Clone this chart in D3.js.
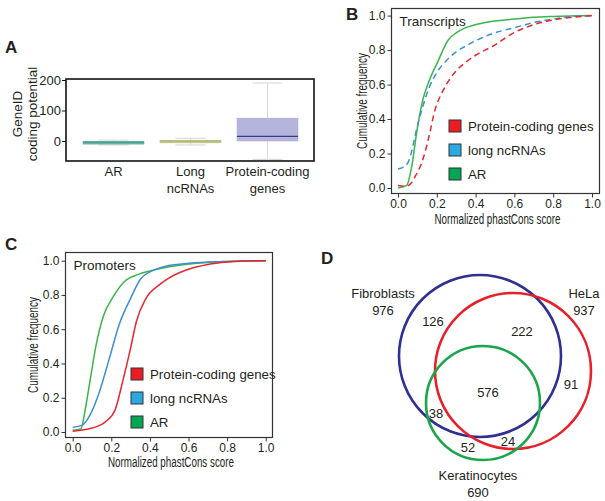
<!DOCTYPE html>
<html>
<head>
<meta charset="utf-8">
<script src="https://cdn.jsdelivr.net/npm/d3@7"></script>
<style>
  body { margin: 0; background: #fff; }
  svg { display: block; }
  .lbl { font-family: "Liberation Sans", Arial, sans-serif; fill: #231f20; }
  .nar { font-family: "Liberation Sans", Arial, sans-serif; fill: #231f20; }
</style>
</head>
<body>
<svg id="fig" width="605" height="501"></svg>
<script>
// ---- panel A: GeneID coding potential boxplots
const boxCats = ["AR", "Long ncRNAs", "Protein-coding genes"];
const boxLabelLines = [["AR"], ["Long", "ncRNAs"], ["Protein-coding", "genes"]];
const boxLow = [-13, -13, -60];
const boxQ1 = [-6, -3, 0];
const boxMed = [-4, 0, 15];
const boxQ3 = [-2, 2, 75];
const boxHigh = [3, 9, 190];
const boxTicks = [0, 100, 200];

// ---- panel B / C: cumulative frequency curves
const seriesNames = ["Protein-coding genes", "long ncRNAs", "AR"];
const transcriptsProtein = [[0,0.015],[0.04,0.01],[0.07,0.03],[0.09,0.07],[0.12,0.14],[0.14,0.21],[0.16,0.3],[0.19,0.45],[0.23,0.56],[0.26,0.62],[0.3,0.68],[0.35,0.73],[0.4,0.77],[0.5,0.83],[0.58,0.89],[0.68,0.94],[0.8,0.975],[0.9,0.99],[1,1]];
const transcriptsLnc = [[0,0.11],[0.04,0.13],[0.06,0.17],[0.08,0.26],[0.1,0.36],[0.13,0.48],[0.16,0.58],[0.2,0.67],[0.25,0.74],[0.3,0.79],[0.36,0.83],[0.43,0.87],[0.5,0.9],[0.6,0.93],[0.7,0.96],[0.8,0.98],[0.9,0.995],[1,1]];
const transcriptsAR = [[0,0],[0.045,0.015],[0.07,0.12],[0.1,0.35],[0.13,0.52],[0.16,0.62],[0.2,0.72],[0.26,0.86],[0.3,0.9],[0.35,0.93],[0.45,0.96],[0.6,0.98],[0.7,0.99],[0.8,0.995],[1,1]];
const promotersProtein = [[0,0.005],[0.1,0.023],[0.17,0.06],[0.22,0.13],[0.26,0.3],[0.3,0.49],[0.33,0.645],[0.38,0.78],[0.45,0.86],[0.5,0.9],[0.6,0.95],[0.7,0.978],[0.8,0.992],[0.9,0.998],[1,1]];
const promotersLnc = [[0,0.027],[0.05,0.04],[0.09,0.1],[0.14,0.24],[0.19,0.43],[0.24,0.625],[0.3,0.78],[0.35,0.89],[0.42,0.945],[0.49,0.97],[0.6,0.985],[0.8,0.995],[1,1]];
const promotersAR = [[0,0.01],[0.044,0.02],[0.06,0.1],[0.09,0.3],[0.12,0.5],[0.16,0.68],[0.21,0.79],[0.27,0.88],[0.34,0.92],[0.4,0.94],[0.5,0.965],[0.7,0.99],[1,1]];
const cdfTicks = [0, 0.2, 0.4, 0.6, 0.8, 1.0];

// ---- panel D: venn
const vennSets = ["Fibroblasts", "HeLa", "Keratinocytes"];
const vennTotals = [976, 937, 690];
const vennRegions = [126, 222, 91, 576, 38, 24, 52];

const svg = d3.select("#fig");
const lineColors = ["#e8262d", "#3d8fd1", "#3ab54a"];
const swatchColors = ["#ed1c24", "#29a9e0", "#00a651"];

function letter(x, y, t) {
  svg.append("text").attr("class", "lbl").attr("x", x).attr("y", y)
    .attr("font-size", 17).attr("font-weight", "bold").text(t);
}

// squeeze a text horizontally (in its own frame) to a target width, like a condensed face
function squeeze(sel, target) {
  const w = sel.node().getComputedTextLength();
  const k = Math.min(1, target / w);
  sel.attr("transform", (sel.attr("transform") || "") + ` scale(${k},1)`);
}

// ================= A =================
letter(5, 53, "A");
const frameA = { l: 66, r: 314, t: 79, b: 161 };
const xA = d3.scaleBand().domain(boxCats).range([frameA.l + 9, frameA.r - 8]).paddingInner(0.2).paddingOuter(0.1);
const yA = d3.scaleLinear().domain([0, 200]).range([141, 80]);
const boxFill = ["#66b9a7", "#c6c98c", "#b4b4dd"];
const medCol = ["#3d9a88", "#a9ad6c", "#3a3a82"];
const gA = svg.append("g");

boxCats.forEach((c, i) => {
  const cx = xA(c) + xA.bandwidth() / 2;
  const w = 61;
  gA.append("line").attr("x1", cx).attr("x2", cx)
    .attr("y1", yA(boxLow[i])).attr("y2", yA(boxHigh[i]))
    .attr("stroke", "#dadada").attr("stroke-width", 1);
  [boxLow[i], boxHigh[i]].forEach(v => {
    gA.append("line").attr("x1", cx - 15).attr("x2", cx + 15)
      .attr("y1", yA(v)).attr("y2", yA(v))
      .attr("stroke", "#d4d4d4").attr("stroke-width", 1);
  });
  gA.append("rect").attr("x", cx - w / 2).attr("width", w)
    .attr("y", yA(boxQ3[i])).attr("height", Math.max(2.5, yA(boxQ1[i]) - yA(boxQ3[i])))
    .attr("fill", boxFill[i]).attr("stroke", d3.color(boxFill[i]).darker(0.2)).attr("stroke-width", 0.5);
  gA.append("line").attr("x1", cx - w / 2).attr("x2", cx + w / 2)
    .attr("y1", yA(boxMed[i])).attr("y2", yA(boxMed[i]))
    .attr("stroke", medCol[i]).attr("stroke-width", 1.2);

  boxLabelLines[i].forEach((t, k) => {
    gA.append("text").attr("class", "lbl").attr("x", cx).attr("y", 176 + k * 17)
      .attr("text-anchor", "middle").attr("font-size", 13).text(t);
  });
});

gA.append("rect").attr("x", frameA.l).attr("y", frameA.t)
  .attr("width", frameA.r - frameA.l).attr("height", frameA.b - frameA.t)
  .attr("fill", "none").attr("stroke", "#111").attr("stroke-width", 1.6);

const axA = gA.append("g").attr("transform", `translate(${frameA.l},0)`)
  .call(d3.axisLeft(yA).tickValues(boxTicks).tickSize(4).tickPadding(1));
axA.select(".domain").remove();
axA.selectAll("text").attr("class", "lbl").attr("font-size", 13).attr("font-family", null);
axA.selectAll("line").attr("stroke", "#111");

gA.append("text").attr("class", "lbl").attr("transform", "translate(22,114) rotate(-90)")
  .attr("text-anchor", "middle").attr("font-size", 13.5).text("GeneID");
gA.append("text").attr("class", "lbl").attr("transform", "translate(37,114) rotate(-90)")
  .attr("text-anchor", "middle").attr("font-size", 13.5).text("coding potential");

// ================= B & C =================
function cdfPanel(opt) {
  const g = svg.append("g");
  const x = d3.scaleLinear().domain([0, 1]).range(opt.xr);
  const y = d3.scaleLinear().domain([0, 1]).range(opt.yr);
  const f = opt.frame;

  const line = d3.line().x(d => x(d[0])).y(d => y(d[1])).curve(d3.curveMonotoneX);
  // draw in reverse so AR ends on top
  [2, 1, 0].forEach(i => {
    g.append("path").datum(opt.series[i])
      .attr("d", line).attr("fill", "none")
      .attr("stroke", lineColors[i]).attr("stroke-width", 1.5)
      .attr("stroke-dasharray", opt.dashed[i] ? "6,4" : null);
  });

  g.append("rect").attr("x", f.l).attr("y", f.t)
    .attr("width", f.r - f.l).attr("height", f.b - f.t)
    .attr("fill", "none").attr("stroke", "#333").attr("stroke-width", 1.2);

  const ay = g.append("g").attr("transform", `translate(${f.l},0)`)
    .call(d3.axisLeft(y).tickValues(cdfTicks).tickFormat(d3.format(".1f")).tickSize(4).tickPadding(2));
  const ax = g.append("g").attr("transform", `translate(0,${f.b})`)
    .call(d3.axisBottom(x).tickValues(cdfTicks).tickFormat(d3.format(".1f")).tickSize(4).tickPadding(2));
  [ax, ay].forEach(a => {
    a.select(".domain").remove();
    a.selectAll("text").attr("class", "nar").attr("font-size", 12).attr("font-family", null);
    a.selectAll("line").attr("stroke", "#333");
  });

  const xt = g.append("text").attr("class", "nar")
    .attr("transform", `translate(${(f.l + f.r) / 2 + 2},${opt.xTitleY})`)
    .attr("text-anchor", "middle").attr("font-size", 14.5)
    .text("Normalized phastCons score");
  squeeze(xt, 126);
  const yt = g.append("text").attr("class", "nar")
    .attr("transform", `translate(${opt.yTitleX},${(f.t + f.b) / 2}) rotate(-90)`)
    .attr("text-anchor", "middle").attr("font-size", 14.5)
    .text("Cumulative frequency");
  squeeze(yt, 96);

  g.append("text").attr("class", "lbl").attr("x", f.l + 8).attr("y", f.t + 17)
    .attr("font-size", 13.5).text(opt.title);

  seriesNames.forEach((s, i) => {
    const yy = opt.legY + i * 24;
    g.append("rect").attr("x", opt.legX).attr("y", yy).attr("width", 12).attr("height", 12)
      .attr("fill", swatchColors[i]).attr("stroke", "#333").attr("stroke-width", 1);
    g.append("text").attr("class", "lbl").attr("x", opt.legX + 19).attr("y", yy + 11)
      .attr("font-size", 13.3).text(s);
  });
}

letter(346, 20, "B");
cdfPanel({
  xr: [398, 592], yr: [188, 15.6],
  frame: { l: 391.5, r: 599.5, t: 8.5, b: 193.5 },
  series: [transcriptsProtein, transcriptsLnc, transcriptsAR],
  dashed: [true, true, false],
  xTitleY: 224, yTitleX: 367,
  title: "Transcripts",
  legX: 449, legY: 120
});

letter(5, 250, "C");
cdfPanel({
  xr: [72.7, 265.7], yr: [432, 260.7],
  frame: { l: 65.5, r: 272.5, t: 252.5, b: 437.5 },
  series: [promotersProtein, promotersLnc, promotersAR],
  dashed: [false, false, false],
  xTitleY: 467, yTitleX: 38,
  title: "Promoters",
  legX: 131, legY: 368
});

// ================= D =================
letter(321, 264, "D");
const vennCircles = [
  { cx: 480, cy: 356, r: 81, col: "#2e3192" },
  { cx: 513, cy: 371, r: 78, col: "#e8202a" },
  { cx: 483, cy: 403, r: 57, col: "#1aa54b" }
];
const gD = svg.append("g");
vennCircles.forEach(c => {
  gD.append("circle").attr("cx", c.cx).attr("cy", c.cy).attr("r", c.r)
    .attr("fill", "none").attr("stroke", c.col).attr("stroke-width", 2.6);
});
const setLabelPos = [[383, 298], [584, 298], [478, 480]];
vennSets.forEach((s, i) => {
  const [lx, ly] = setLabelPos[i];
  gD.append("text").attr("class", "lbl").attr("x", lx).attr("y", ly)
    .attr("text-anchor", "middle").attr("font-size", 13).text(s);
  gD.append("text").attr("class", "lbl").attr("x", lx).attr("y", ly + 17)
    .attr("text-anchor", "middle").attr("font-size", 13).text(vennTotals[i]);
});
const regionPos = [[433, 326], [522, 336], [571, 389], [488, 397], [436, 418], [508, 446], [468, 452]];
vennRegions.forEach((v, i) => {
  gD.append("text").attr("class", "lbl").attr("x", regionPos[i][0]).attr("y", regionPos[i][1])
    .attr("text-anchor", "middle").attr("font-size", 13).text(v);
});
</script>
</body>
</html>
